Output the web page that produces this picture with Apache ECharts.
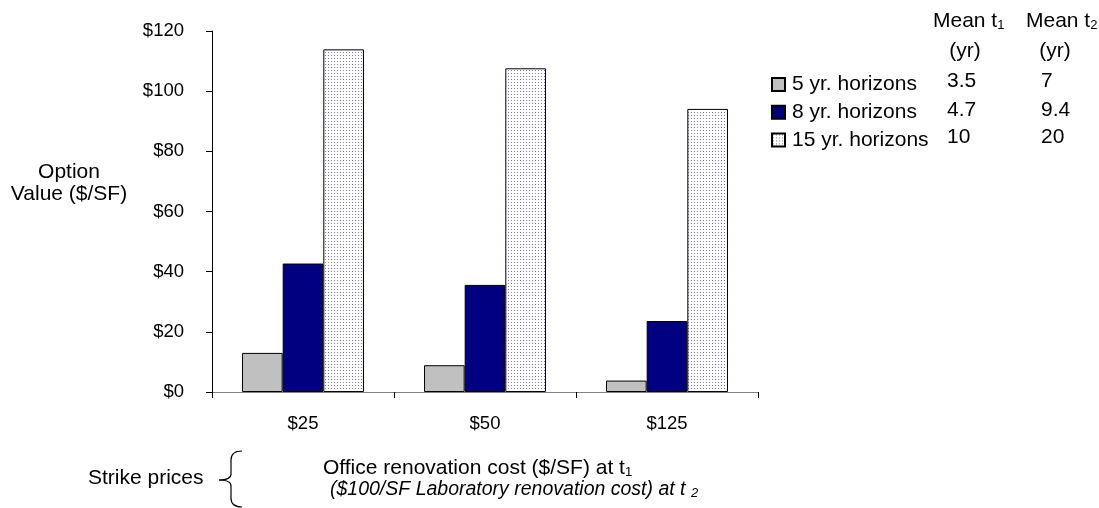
<!DOCTYPE html>
<html>
<head>
<meta charset="utf-8">
<script src="https://cdn.jsdelivr.net/npm/echarts@6/dist/echarts.min.js"></script>
<style>
  html, body { margin: 0; padding: 0; background: #fff; }
  #chart { width: 1099px; height: 508px; }
</style>
</head>
<body>
<div id="chart"></div>
<script>
// Strike-price categories (office renovation cost, $/SF)
const categories = ['$25', '$50', '$125'];
// Option value ($/SF) per horizon
const fiveYr = [13.0, 8.9, 3.8];
const eightYr = [42.7, 35.6, 23.6];
const fifteenYr = [113.9, 107.6, 94.1];
const seriesNames = ['5 yr. horizons', '8 yr. horizons', '15 yr. horizons'];
// Mean exercise times (years) per horizon
const meanT1 = ['3.5', '4.7', '10'];
const meanT2 = ['7', '9.4', '20'];
// Value axis
const yMin = 0, yMax = 120, yStep = 20;

const FONT = "'Liberation Sans', Arial, sans-serif";

// Light dotted fill for the long-horizon bars
function dotPattern() {
  const c = document.createElement('canvas');
  c.width = 3; c.height = 3;
  const g = c.getContext('2d');
  g.fillStyle = '#ffffff';
  g.fillRect(0, 0, 3, 3);
  g.fillStyle = '#7c7cc4';
  g.fillRect(1, 1, 1, 1);
  return c;
}
const dots = { image: dotPattern(), repeat: 'repeat' };

const chart = echarts.init(document.getElementById('chart'), null, { renderer: 'canvas' });

const txt = (x, y, text, extra) => Object.assign({
  type: 'text', x: x, y: y,
  style: Object.assign({ text: text, fill: '#000', font: '21px ' + FONT, textVerticalAlign: 'middle' }, extra || {})
});

const subRich = {
  sub: { fontSize: 13, fontFamily: FONT, fill: '#000', verticalAlign: 'bottom', lineHeight: 14 }
};

const barStyle = (color) => ({ color: color, borderColor: '#000', borderWidth: 1 });

// curly brace grouping the two strike-price lines
const braceStroke = { fill: 'none', stroke: '#000', lineWidth: 1.2 };
const braceParts = [
  { type: 'bezierCurve', shape: { x1: 242, y1: 451, cpx1: 231, cpy1: 451, x2: 231, y2: 460 } },
  { type: 'line', shape: { x1: 231, y1: 460, x2: 231, y2: 474 } },
  { type: 'bezierCurve', shape: { x1: 231, y1: 474, cpx1: 231, cpy1: 480, x2: 219, y2: 480 } },
  { type: 'bezierCurve', shape: { x1: 219, y1: 480, cpx1: 231, cpy1: 480, x2: 231, y2: 486 } },
  { type: 'line', shape: { x1: 231, y1: 486, x2: 231, y2: 498 } },
  { type: 'bezierCurve', shape: { x1: 231, y1: 498, cpx1: 231, cpy1: 507, x2: 242, y2: 507 } }
].map(p => Object.assign(p, { style: braceStroke }));

const graphics = [
  // value axis title
  txt(69, 172, 'Option', { textAlign: 'center' }),
  txt(69, 194, 'Value ($/SF)', { textAlign: 'center' }),
  // table header
  { type: 'text', x: 933, y: 21, style: { text: 'Mean t{sub|1}', rich: subRich, fill: '#000', font: '21px ' + FONT, textVerticalAlign: 'middle' } },
  { type: 'text', x: 1026, y: 21, style: { text: 'Mean t{sub|2}', rich: subRich, fill: '#000', font: '21px ' + FONT, textVerticalAlign: 'middle' } },
  txt(965, 51, '(yr)', { textAlign: 'center' }),
  txt(1055, 51, '(yr)', { textAlign: 'center' }),
  // strike price annotation
  txt(88, 478.5, 'Strike prices'),
  ...braceParts,
  { type: 'text', x: 323, y: 468, style: { text: 'Office renovation cost ($/SF) at t{sub|1}', rich: subRich, fill: '#000', font: '21px ' + FONT, textVerticalAlign: 'middle' } },
  { type: 'text', x: 330, y: 490, style: { text: '($100/SF Laboratory renovation cost) at t {sub|2}', rich: { sub: { fontSize: 13, fontFamily: FONT, fontStyle: 'italic', fill: '#000', verticalAlign: 'bottom', lineHeight: 14 } }, fill: '#000', font: 'italic 19.5px ' + FONT, textVerticalAlign: 'middle' } }
];
const rowY = [81.5, 110, 137];
for (let i = 0; i < meanT1.length; i++) {
  graphics.push(txt(947, rowY[i], meanT1[i]));
  graphics.push(txt(1041, rowY[i], meanT2[i]));
}

chart.setOption({
  animation: false,
  backgroundColor: '#fff',
  textStyle: { fontFamily: FONT, color: '#000' },
  grid: { left: 212, right: 341, top: 31, bottom: 116, containLabel: false },
  legend: {
    data: seriesNames,
    orient: 'vertical',
    left: 771,
    top: 73.5,
    padding: 0,
    icon: 'rect',
    itemWidth: 13,
    itemHeight: 13,
    itemGap: 5.7,
    textStyle: { fontSize: 21, fontFamily: FONT, color: '#000', lineHeight: 22, padding: [0, 0, 0, 2] }
  },
  xAxis: {
    type: 'category',
    data: categories,
    axisLine: { show: true, lineStyle: { color: '#808080', width: 1 } },
    axisTick: { show: true, length: 6, lineStyle: { color: '#000' } },
    axisLabel: { fontSize: 18.5, color: '#000', fontFamily: FONT, margin: 22 },
    splitLine: { show: false }
  },
  yAxis: {
    type: 'value',
    min: yMin, max: yMax, interval: yStep,
    axisLine: { show: true, lineStyle: { color: '#000', width: 1 } },
    axisTick: { show: true, length: 6, lineStyle: { color: '#000' } },
    axisLabel: { fontSize: 18.5, color: '#000', fontFamily: FONT, margin: 28, formatter: '${value}' },
    splitLine: { show: false }
  },
  series: [
    { name: seriesNames[0], type: 'bar', data: fiveYr, itemStyle: barStyle('#c0c0c0'), barGap: '0%', barCategoryGap: '33%' },
    { name: seriesNames[1], type: 'bar', data: eightYr, itemStyle: barStyle('#000080'), barGap: '0%', barCategoryGap: '33%' },
    { name: seriesNames[2], type: 'bar', data: fifteenYr, itemStyle: barStyle(dots), barGap: '0%', barCategoryGap: '33%' }
  ],
  graphic: graphics
});
</script>
</body>
</html>
